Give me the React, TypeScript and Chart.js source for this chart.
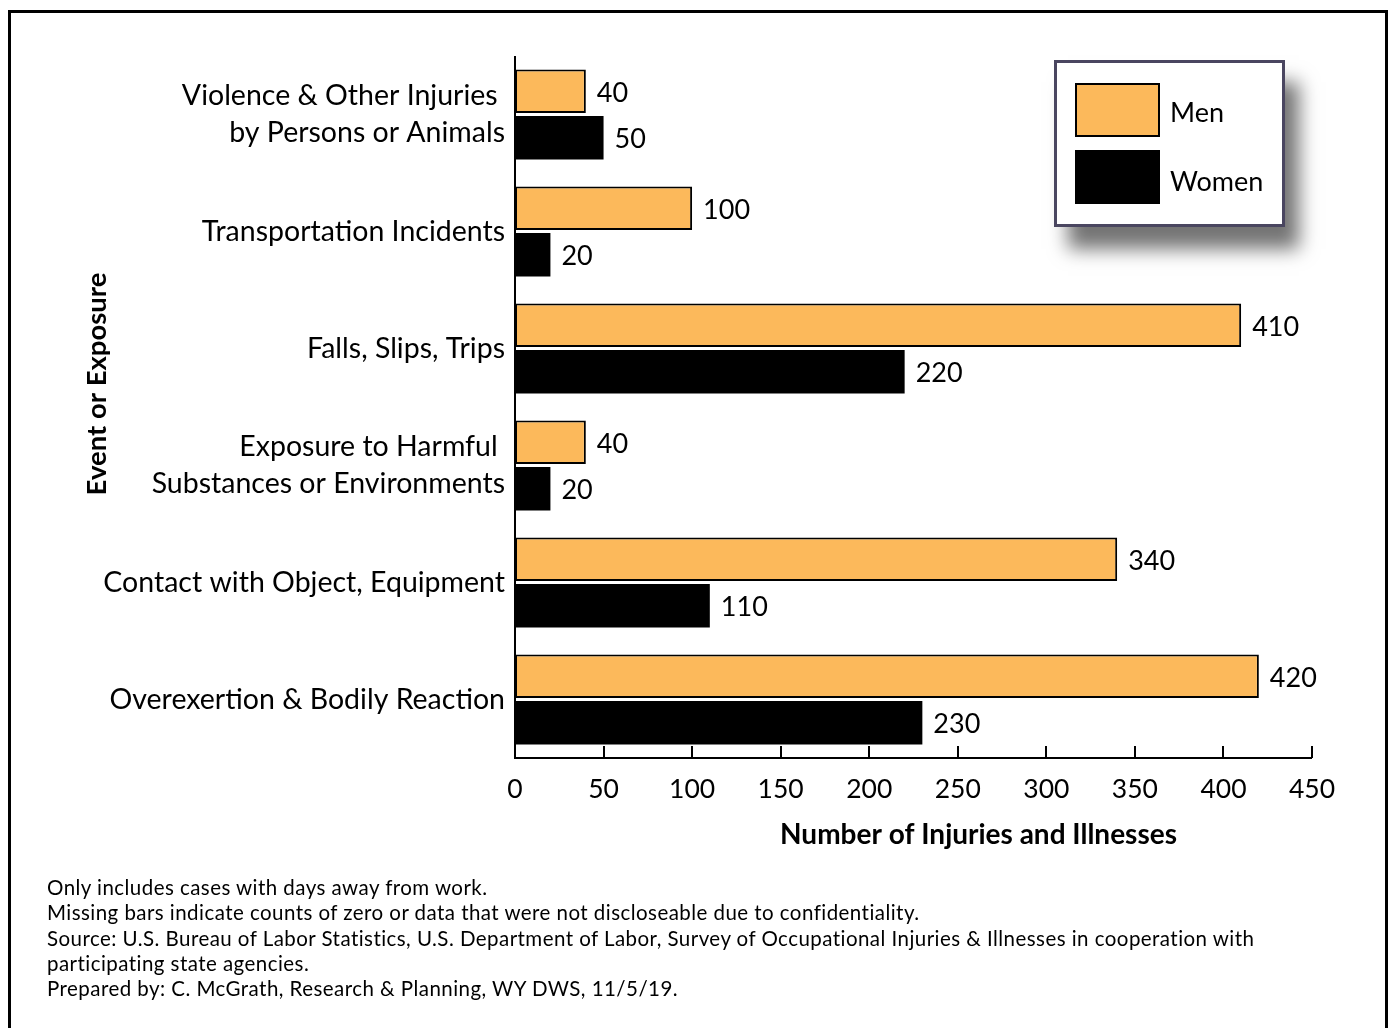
import React, { useEffect, useRef } from "react";
import { Chart, registerables } from "chart.js";

Chart.register(...registerables);

const FONT = "Lato, 'Noto Sans', sans-serif";

const CATEGORIES: (string | string[])[] = [
  ["Violence & Other Injuries ", "by Persons or Animals"],
  "Transportation Incidents",
  "Falls, Slips, Trips",
  ["Exposure to Harmful ", "Substances or Environments"],
  "Contact with Object, Equipment",
  "Overexertion & Bodily Reaction",
];
const MEN = [40, 100, 410, 40, 340, 420];
const WOMEN = [50, 20, 220, 20, 110, 230];
const SERIES = ["Men", "Women"];
const SERIES_COLORS = ["#FCB95B", "#000000"];
const X_MIN = 0;
const X_MAX = 450;
const X_STEP = 50;
const X_TITLE = "Number of Injuries and Illnesses";
const Y_TITLE = "Event or Exposure";
const NOTES = [
  "Only includes cases with days away from work.",
  "Missing bars indicate counts of zero or data that were not discloseable due to confidentiality.",
  "Source: U.S. Bureau of Labor Statistics, U.S. Department of Labor, Survey of Occupational Injuries & Illnesses in cooperation with",
  "participating state agencies.",
  "Prepared by: C. McGrath, Research & Planning, WY DWS, 11/5/19.",
];

const decorPlugin = {
  id: "decor",
  afterDatasetsDraw(chart: any) {
    const { ctx, chartArea } = chart;
    const x = chart.scales.x;
    ctx.save();
    // value labels
    ctx.font = `27px ${FONT}`;
    ctx.fillStyle = "#000";
    ctx.textAlign = "left";
    ctx.textBaseline = "middle";
    chart.data.datasets.forEach((ds: any, i: number) => {
      chart.getDatasetMeta(i).data.forEach((bar: any, j: number) => {
        ctx.fillText(String(ds.data[j]), bar.x + 11, bar.y + 2);
      });
    });
    // axes
    ctx.strokeStyle = "#000";
    ctx.lineWidth = 2;
    ctx.beginPath();
    ctx.moveTo(chartArea.left, chartArea.top);
    ctx.lineTo(chartArea.left, chartArea.bottom);
    ctx.lineTo(chartArea.right, chartArea.bottom);
    ctx.stroke();
    ctx.beginPath();
    x.ticks.forEach((t: any) => {
      const px = Math.round(x.getPixelForValue(t.value));
      ctx.moveTo(px, chartArea.bottom);
      ctx.lineTo(px, chartArea.bottom - 12);
    });
    ctx.stroke();
    // titles
    ctx.font = `bold 28px ${FONT}`;
    ctx.textAlign = "center";
    ctx.textBaseline = "middle";
    ctx.fillText(X_TITLE, (chartArea.left + chartArea.right) / 2 + 65, chartArea.bottom + 77);
    ctx.font = `bold 27.5px ${FONT}`;
    ctx.translate(97, 384);
    ctx.rotate(-Math.PI / 2);
    ctx.fillText(Y_TITLE, 0, 0);
    ctx.restore();
  },
};

export default function App() {
  const ref = useRef<HTMLCanvasElement | null>(null);

  useEffect(() => {
    if (!ref.current) return;
    Chart.defaults.font.family = FONT;
    const chart = new Chart(ref.current, {
      type: "bar",
      data: {
        labels: CATEGORIES,
        datasets: [
          {
            label: SERIES[0],
            data: MEN,
            backgroundColor: SERIES_COLORS[0],
            borderColor: "#000",
            borderWidth: 2,
            borderSkipped: false,
            categoryPercentage: 0.795,
            barPercentage: 0.935,
          },
          {
            label: SERIES[1],
            data: WOMEN,
            backgroundColor: SERIES_COLORS[1],
            borderWidth: 0,
            categoryPercentage: 0.795,
            barPercentage: 0.935,
          },
        ],
      },
      options: {
        indexAxis: "y",
        responsive: false,
        animation: false,
        layout: { padding: { left: 0, top: 56, right: 80, bottom: 0 } },
        plugins: {
          legend: { display: false },
          tooltip: { enabled: false },
        },
        scales: {
          x: {
            type: "linear",
            min: X_MIN,
            max: X_MAX,
            ticks: {
              stepSize: X_STEP,
              color: "#000",
              font: { size: 26.5 },
              padding: 16,
            },
            grid: { display: false, drawTicks: false },
            border: { display: false },
            afterFit: (s: any) => {
              s.height = 270;
            },
          },
          y: {
            type: "category",
            ticks: {
              color: "#000",
              font: { size: 28.5, lineHeight: 1.28 },
              padding: 10,
              autoSkip: false,
            },
            grid: { display: false, drawTicks: false },
            border: { display: false },
            afterFit: (s: any) => {
              s.width = 515;
            },
          },
        },
      },
      plugins: [decorPlugin],
    } as any);
    return () => chart.destroy();
  }, []);

  return (
    <div style={{ position: "absolute", left: 0, top: 0, width: 1392, height: 1028, overflow: "hidden", background: "#fff" }}>
      <div
        style={{
          position: "absolute",
          left: 8,
          top: 10,
          width: 1380,
          height: 1040,
          border: "3px solid #000",
          boxSizing: "border-box",
        }}
      />
      <canvas ref={ref} width={1392} height={1028} style={{ position: "absolute", left: 0, top: 0 }} />
      <div
        style={{
          position: "absolute",
          left: 1054,
          top: 60,
          width: 231,
          height: 167,
          border: "3px solid #4a4660",
          boxSizing: "border-box",
          background: "#fff",
          boxShadow: "14px 22px 18px rgba(0,0,0,0.55)",
          fontFamily: FONT,
        }}
      >
        {SERIES.map((s, i) => (
          <React.Fragment key={s}>
            <div
              style={{
                position: "absolute",
                left: 18,
                top: i === 0 ? 20 : 87,
                width: 85,
                height: 54,
                boxSizing: "border-box",
                border: i === 0 ? "2px solid #000" : "none",
                background: SERIES_COLORS[i],
              }}
            />
            <div
              style={{
                position: "absolute",
                left: 113,
                top: (i === 0 ? 49 : 118) - 17,
                height: 34,
                lineHeight: "34px",
                fontSize: 27,
                color: "#000",
                whiteSpace: "nowrap",
              }}
            >
              {s}
            </div>
          </React.Fragment>
        ))}
      </div>
      <div
        style={{
          position: "absolute",
          left: 47,
          top: 875,
          fontFamily: FONT,
          fontSize: 20.5,
          letterSpacing: "0.45px",
          lineHeight: "25.3px",
          color: "#000",
          whiteSpace: "nowrap",
        }}
      >
        {NOTES.map((n) => (
          <div key={n}>{n}</div>
        ))}
      </div>
    </div>
  );
}
